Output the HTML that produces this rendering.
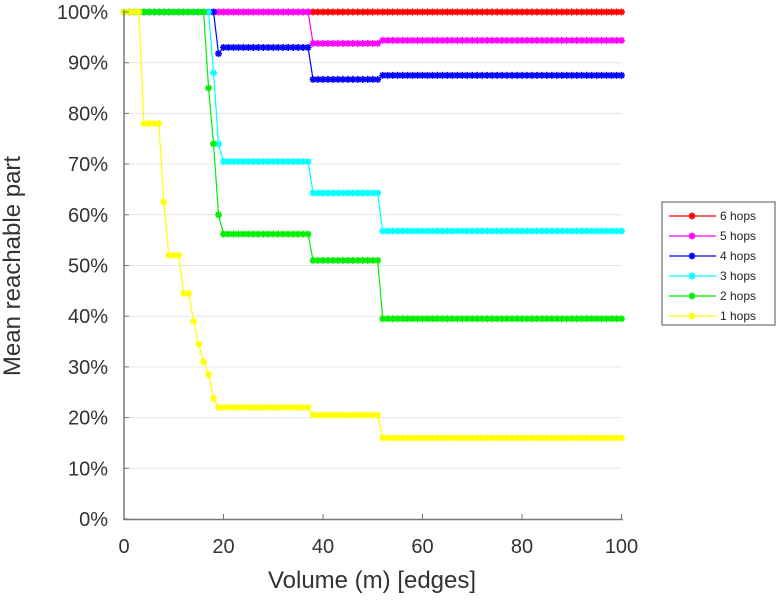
<!DOCTYPE html>
<html><head><meta charset="utf-8"><style>
html,body{margin:0;padding:0;background:#fff;}
svg{display:block;font-family:"Liberation Sans",sans-serif;}
</style></head><body>
<svg id="s" width="778" height="600" xmlns="http://www.w3.org/2000/svg">
<g id="grid"></g>
<g id="series"></g>
<g id="axes"></g>
<text x="20" y="266" font-size="24" fill="#333" text-anchor="middle" transform="rotate(-90 20 266)">Mean reachable part</text>
<text x="372" y="588" font-size="24" fill="#333" text-anchor="middle">Volume (m) [edges]</text>
<rect x="662" y="202" width="113" height="123" fill="#fff" stroke="#555" stroke-width="1"/>
<g id="leg" font-size="12" fill="#222"></g>
</svg>
<script>
const NS="http://www.w3.org/2000/svg";
const X=v=>124+v*4.975, Y=p=>519-p*5.07;
function el(t,a,p){const e=document.createElementNS(NS,t);for(const k in a)e.setAttribute(k,a[k]);(p||document.getElementById('s')).appendChild(e);return e;}
const grid=document.getElementById('grid'),axes=document.getElementById('axes');
for(let p=10;p<=100;p+=10)el('line',{x1:124,x2:622,y1:Y(p),y2:Y(p),stroke:'#e6e6e6','stroke-width':1},grid);
el('line',{x1:124,x2:124,y1:10,y2:520,stroke:'#777','stroke-width':1.5},axes);
el('line',{x1:123,x2:623,y1:519.5,y2:519.5,stroke:'#777','stroke-width':1.5},axes);
for(let p=0;p<=100;p+=10){el('line',{x1:124,x2:129,y1:Y(p),y2:Y(p),stroke:'#777'},axes);
 const t=el('text',{x:108,y:Y(p)+7,'font-size':20,fill:'#333','text-anchor':'end'},axes);t.textContent=p+'%';}
for(let v=0;v<=100;v+=20){el('line',{x1:X(v),x2:X(v),y1:519,y2:514,stroke:'#777'},axes);
 const t=el('text',{x:X(v),y:553,'font-size':20,fill:'#333','text-anchor':'middle'},axes);t.textContent=v;}
function build(spec){const a=[];for(let x=0;x<=100;x++){let y=100;for(const [s,e,v] of spec){if(x>=s&&x<=e)y=v;}a.push([x,y]);}return a;}
const S=[
['#ff0000',build([])],
['#ff00ff',build([[38,51,93.8],[52,100,94.4]])],
['#0000ff',build([[19,19,91.8],[20,37,93],[38,51,86.7],[52,100,87.5]])],
['#00ffff',build([[18,18,88],[19,19,74],[20,37,70.5],[38,51,64.3],[52,100,56.8]])],
['#00ee00',build([[17,17,85],[18,18,74],[19,19,60],[20,37,56.2],[38,51,51],[52,100,39.5]])],
['#ffff00',build([[4,7,78],[8,8,62.5],[9,11,52],[12,13,44.5],[14,14,39],[15,15,34.5],[16,16,31],[17,17,28.5],[18,18,23.8],[19,37,22],[38,51,20.5],[52,100,16]])]
];
const sg=document.getElementById('series');
function star(g,cx,cy,c){const r=3.5,d=2.5;
 el('path',{d:`M${cx-r} ${cy}H${cx+r}M${cx} ${cy-r}V${cy+r}M${cx-d} ${cy-d}L${cx+d} ${cy+d}M${cx-d} ${cy+d}L${cx+d} ${cy-d}`,stroke:c,'stroke-width':1.6,fill:'none'},g);}
for(const [c,pts] of S){const g=el('g',{},sg);
 el('polyline',{points:pts.map(p=>X(p[0])+','+Y(p[1])).join(' '),fill:'none',stroke:c,'stroke-width':1.2},g);
 for(const p of pts)star(g,X(p[0]),Y(p[1]),c);}
const leg=document.getElementById('leg');
const names=['6 hops','5 hops','4 hops','3 hops','2 hops','1 hops'];
names.forEach((n,i)=>{const y=216+i*20,c=S[i][0];
 el('line',{x1:669,x2:716,y1:y,y2:y,stroke:c,'stroke-width':1.2},leg);star(leg,692,y,c);
 const t=el('text',{x:720,y:y+4,'font-size':12,fill:'#222'},leg);t.textContent=n;});
</script>
</body></html>
